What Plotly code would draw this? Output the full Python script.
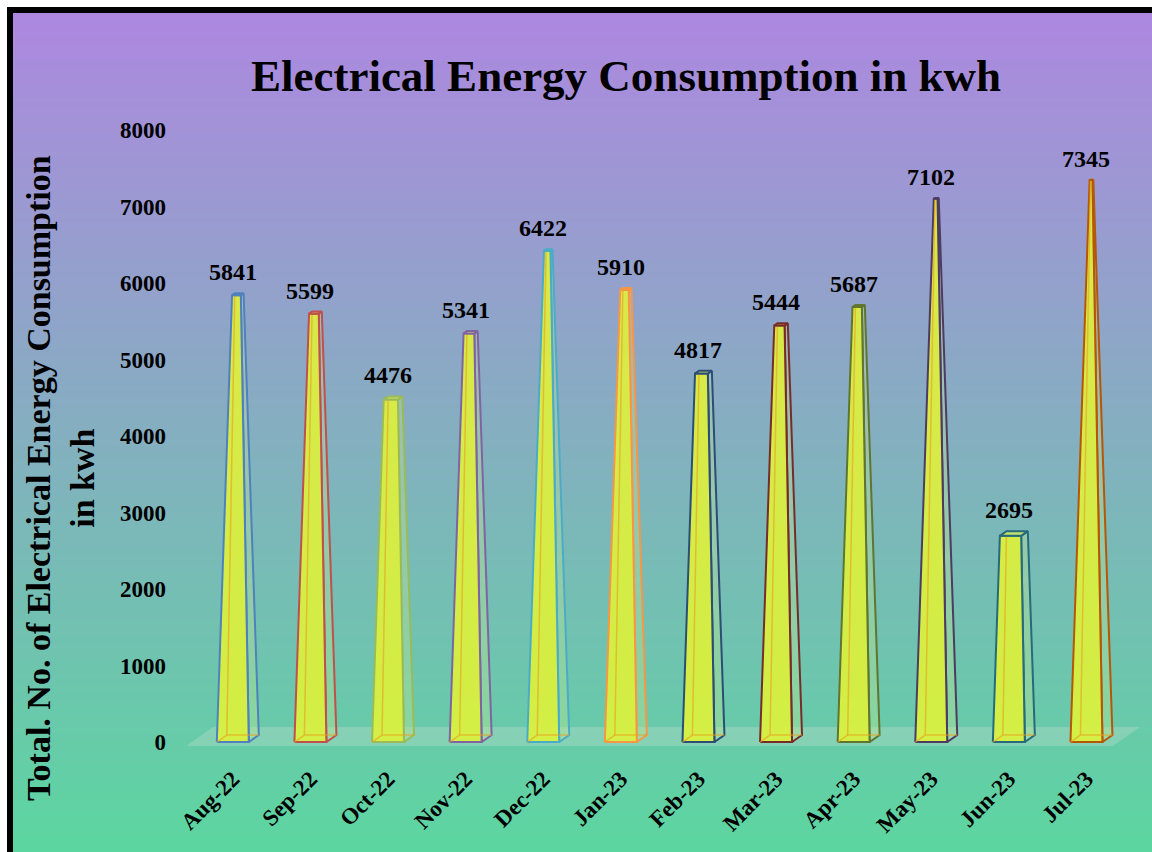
import plotly.graph_objects as go

# ---- data ----
MONTHS = ["Aug-22", "Sep-22", "Oct-22", "Nov-22", "Dec-22", "Jan-23",
          "Feb-23", "Mar-23", "Apr-23", "May-23", "Jun-23", "Jul-23"]
KWH = [5841, 5599, 4476, 5341, 6422, 5910, 4817, 5444, 5687, 7102, 2695, 7345]
Y_TICKS = [0, 1000, 2000, 3000, 4000, 5000, 6000, 7000, 8000]

# Excel "vary colours by point" outline colours
EDGE_COLORS = ["#4F81BD", "#C0504D", "#9BBB59", "#8064A2", "#4BACC6", "#F79646",
               "#2C4D75", "#772C2A", "#5F7530", "#4D3B62", "#276A7C", "#B65708"]

FONT = "Liberation Serif"
W, H = 1152, 852
ML, MR, MT, MB = 175, 12, 130, 92
PW, PH = W - ML - MR, H - MT - MB
Y_MAX = 8000
Y_RANGE = [-235, Y_MAX]
X_RANGE = [-0.745, 11.69]

# pixel -> data unit sizes
XU = (X_RANGE[1] - X_RANGE[0]) / PW
YU = (Y_RANGE[1] - Y_RANGE[0]) / PH


def paper_x(p):
    return (p - ML) / PW


def paper_y(p):
    return (H - MB - p) / PH


def lerp(p, q, f):
    return (p[0] + (q[0] - p[0]) * f, p[1] + (q[1] - p[1]) * f)


def poly(points, fill, line_color, width=2):
    xs = [p[0] for p in points] + [points[0][0]]
    ys = [p[1] for p in points] + [points[0][1]]
    return go.Scatter(x=xs, y=ys, mode="lines", fill="toself", fillcolor=fill,
                      line=dict(color=line_color, width=width),
                      hoverinfo="skip", showlegend=False)


fig = go.Figure()

# background: thick black frame + vertical purple->green gradient
shapes = [dict(type="rect", xref="paper", yref="paper", layer="below",
               x0=paper_x(7), x1=paper_x(W + 20), y0=paper_y(7), y1=paper_y(H + 20),
               fillcolor="black", line=dict(width=0))]
top_c, bot_c = (173, 136, 224), (92, 214, 160)
n_strips = 140
y_start, y_end = 13, H + 2
step = (y_end - y_start) / n_strips
for k in range(n_strips):
    f = k / (n_strips - 1)
    c = tuple(round(a + (b - a) * f) for a, b in zip(top_c, bot_c))
    y0 = y_start + k * step
    shapes.append(dict(type="rect", xref="paper", yref="paper", layer="below",
                       x0=paper_x(13), x1=paper_x(W + 20),
                       y0=paper_y(y0), y1=paper_y(y0 + step + 1),
                       fillcolor="rgb(%d,%d,%d)" % c, line=dict(width=0)))

# floor of the 3-D chart
n = len(MONTHS)
floor_dx, floor_dy = 27 * XU, 19 * YU
f_front = -4 * YU
floor = [(-0.6, f_front), (n - 1 + 0.34, f_front),
         (n - 1 + 0.34 + floor_dx, f_front + floor_dy), (-0.6 + floor_dx, f_front + floor_dy)]
fig.add_trace(poly(floor, "rgba(215,225,215,0.28)", "rgba(0,0,0,0)", 0))

# pyramid-to-max bars
hw = 16 * XU
dx, dy = 10 * XU, 7 * YU
annotations = []
for i, (v, col) in enumerate(zip(KWH, EDGE_COLORS)):
    fl0, fr0 = (i - hw, 0), (i + hw, 0)
    br0, bl0 = (i + hw + dx, dy), (i - hw + dx, dy)
    apex = (i + dx / 2, Y_MAX + dy / 2)
    f = v / apex[1]
    flt, frt, brt, blt = [lerp(p, apex, f) for p in (fl0, fr0, br0, bl0)]

    fig.add_trace(poly([fr0, br0, brt, frt], "rgba(205,235,140,0.32)", col))
    fig.add_trace(poly([fl0, fr0, frt, flt], "rgba(225,242,55,0.88)", col))
    fig.add_trace(go.Scatter(
        x=[fl0[0], bl0[0], br0[0], None, bl0[0], blt[0]],
        y=[fl0[1], bl0[1], br0[1], None, bl0[1], blt[1]],
        mode="lines", line=dict(color="rgba(230,160,30,0.6)", width=1.5),
        hoverinfo="skip", showlegend=False))
    fig.add_trace(poly([flt, frt, brt, blt], "rgba(215,238,90,0.8)", col))

    annotations.append(dict(x=i, y=max(brt[1], blt[1]), text=str(v), showarrow=False,
                            xanchor="center", yanchor="bottom", yshift=6,
                            font=dict(family=FONT, size=24, color="black", weight="bold")))

annotations.append(dict(
    xref="paper", yref="paper", x=paper_x(60), y=paper_y(478),
    text="Total. No. of Electrical Energy Consumption<br>in kwh",
    textangle=-90, showarrow=False, align="center",
    xanchor="center", yanchor="middle",
    font=dict(family=FONT, size=34, color="black", weight="bold")))

fig.update_layout(
    width=W, height=H,
    margin=dict(l=ML, r=MR, t=MT, b=MB),
    paper_bgcolor="white", plot_bgcolor="rgba(0,0,0,0)",
    shapes=shapes, annotations=annotations, showlegend=False,
    title=dict(text="Electrical Energy Consumption in kwh",
               xref="container", yref="container",
               x=626 / W, y=1 - 75 / H, xanchor="center", yanchor="middle",
               font=dict(family=FONT, size=45, color="black", weight="bold")),
)
fig.update_xaxes(range=X_RANGE, tickvals=list(range(n)), ticktext=MONTHS,
                 tickangle=-45, showgrid=False, zeroline=False, showline=False,
                 tickfont=dict(family=FONT, size=23, color="black", weight="bold"))
fig.update_yaxes(range=Y_RANGE, tickvals=Y_TICKS, showgrid=False, zeroline=False,
                 showline=False, ticklabelstandoff=8,
                 tickfont=dict(family=FONT, size=23, color="black", weight="bold"))

# drop the browser's default body margin and scrollbars so the figure fills the window
fig.write_html(
    "out.html",
    config={"displayModeBar": False},
    post_script="document.body.style.margin = '0'; document.body.style.overflow = 'hidden';",
)
